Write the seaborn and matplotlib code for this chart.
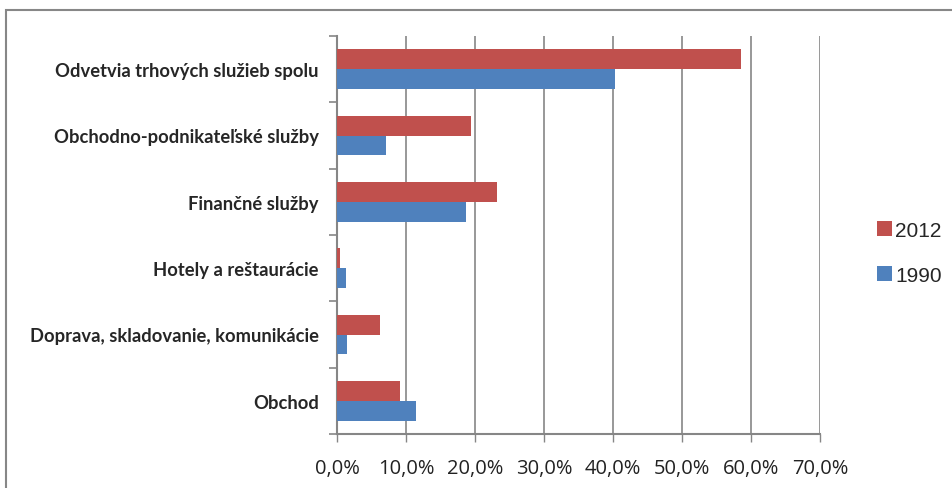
import matplotlib
matplotlib.use("Agg")
import matplotlib.pyplot as plt
import seaborn as sns
import pandas as pd
from matplotlib.patches import Rectangle
from matplotlib.ticker import FixedLocator

categories = [
    "Odvetvia trhových služieb spolu",
    "Obchodno-podnikateľské služby",
    "Finančné služby",
    "Hotely a reštaurácie",
    "Doprava, skladovanie, komunikácie",
    "Obchod",
]
share_2012 = [58.5, 19.4, 23.2, 0.4, 6.3, 9.1]
share_1990 = [40.3, 7.1, 18.7, 1.3, 1.4, 11.4]
years = ["2012", "1990"]
x_ticks = [0, 10, 20, 30, 40, 50, 60, 70]
x_tick_labels = ["0,0%", "10,0%", "20,0%", "30,0%", "40,0%", "50,0%", "60,0%", "70,0%"]

df = pd.DataFrame({
    "odvetvie": categories * 2,
    "rok": [years[0]] * len(categories) + [years[1]] * len(categories),
    "podiel": share_2012 + share_1990,
})

sns.set_theme(style="white")
plt.rcParams["font.family"] = ["Lato", "DejaVu Sans"]

fig = plt.figure(figsize=(9.52, 4.89), dpi=100)
ax = fig.add_axes([337 / 952, 1 - 435 / 489, (820 - 337) / 952, (435 - 37) / 489])

palette = {"2012": "#C0504D", "1990": "#4F81BD"}
sns.barplot(data=df, x="podiel", y="odvetvie", hue="rok", hue_order=years,
            order=categories, palette=palette, width=0.6, saturation=1,
            edgecolor="none", ax=ax, zorder=3)

ax.set_xlim(0, 70)
ax.set_ylim(len(categories) - 0.5, -0.5)
ax.set_xticks(x_ticks)
ax.set_xticklabels(x_tick_labels, fontsize=14.5, family=["Open Sans", "DejaVu Sans"])
ax.set_xlabel("")
ax.set_ylabel("")

for lbl in ax.get_yticklabels():
    lbl.set_fontweight("bold")
    lbl.set_fontsize(13.2)
ax.tick_params(axis="y", which="major", length=0, pad=13)
ax.yaxis.set_minor_locator(FixedLocator([i - 0.5 for i in range(len(categories) + 1)]))
ax.tick_params(axis="y", which="minor", left=True, length=6, width=1.2, color="#868686")
ax.tick_params(axis="x", which="major", bottom=True, length=6, width=1, color="#868686",
               pad=11, labelcolor="#222222")

ax.grid(axis="x", color="#868686", linewidth=1.2, zorder=0)
ax.grid(axis="y", visible=False)
for side in ["top", "right"]:
    ax.spines[side].set_visible(False)
for side in ["left", "bottom"]:
    ax.spines[side].set_color("#868686")
    ax.spines[side].set_linewidth(1.5)

leg = ax.legend(loc="center left", bbox_to_anchor=(1.097, 0.455), frameon=False,
                prop={"family": ["Liberation Sans", "DejaVu Sans"], "size": 15},
                handlelength=0.7, handleheight=0.7, handletextpad=0.15,
                labelspacing=1.25, borderpad=0)

fig.patches.append(Rectangle((6 / 952, -0.05), 1.1, 1 - 11 / 489 + 0.05,
                             transform=fig.transFigure, fill=False,
                             edgecolor="#878787", linewidth=1.5))

fig.savefig("out.png", dpi=100)
